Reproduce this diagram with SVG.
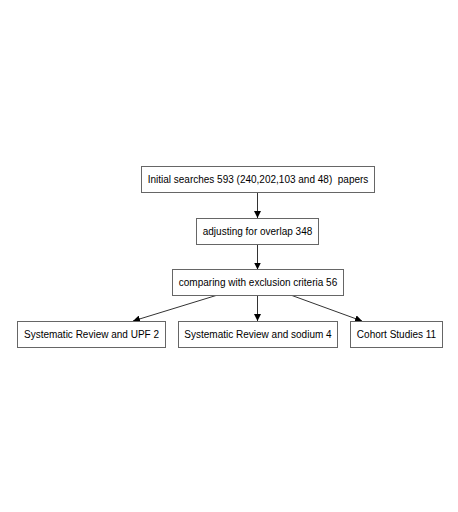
<svg xmlns="http://www.w3.org/2000/svg" width="458" height="512" viewBox="0 0 458 512">
<style>
.n rect{fill:#fff;stroke:#666;stroke-width:1}
.n text{font-family:"Liberation Sans",Arial,sans-serif;font-size:10px;fill:#000;text-anchor:middle;dominant-baseline:central;white-space:pre}
.e path{stroke:#333;stroke-width:1;fill:none;marker-end:url(#ah)}
</style>
<defs>
<marker id="ah" viewBox="0 0 10 10" refX="10" refY="5" markerWidth="7" markerHeight="7" markerUnits="userSpaceOnUse" orient="auto">
<path d="M0,0L10,5L0,10z" fill="#000"/>
</marker>
</defs>
<rect width="458" height="512" fill="#fff"/>
<g id="edges" class="e">
<path d="M257.5,192.5V218"/>
<path d="M257.5,244.5V269.5"/>
<path d="M216,295.5L133,321"/>
<path d="M257.5,295.5V321"/>
<path d="M292,295.5L362,321"/>
</g>
<g id="n1" class="n"><rect x="141.5" y="166.5" width="233" height="26"/><text x="258" y="179.5" xml:space="preserve">Initial searches 593 (240,202,103 and 48)  papers</text></g>
<g id="n2" class="n"><rect x="196.5" y="218.5" width="122" height="26"/><text x="257.5" y="231">adjusting for overlap 348</text></g>
<g id="n3" class="n"><rect x="172.5" y="269.5" width="171" height="26"/><text x="258" y="282.5">comparing with exclusion criteria 56</text></g>
<g id="n4" class="n"><rect x="17.5" y="321.5" width="148" height="26"/><text x="91.5" y="334">Systematic Review and UPF 2</text></g>
<g id="n5" class="n"><rect x="178.5" y="321.5" width="159" height="26"/><text x="258" y="334">Systematic Review and sodium 4</text></g>
<g id="n6" class="n"><rect x="350.5" y="321.5" width="92" height="26"/><text x="396.5" y="334">Cohort Studies 11</text></g>
</svg>
